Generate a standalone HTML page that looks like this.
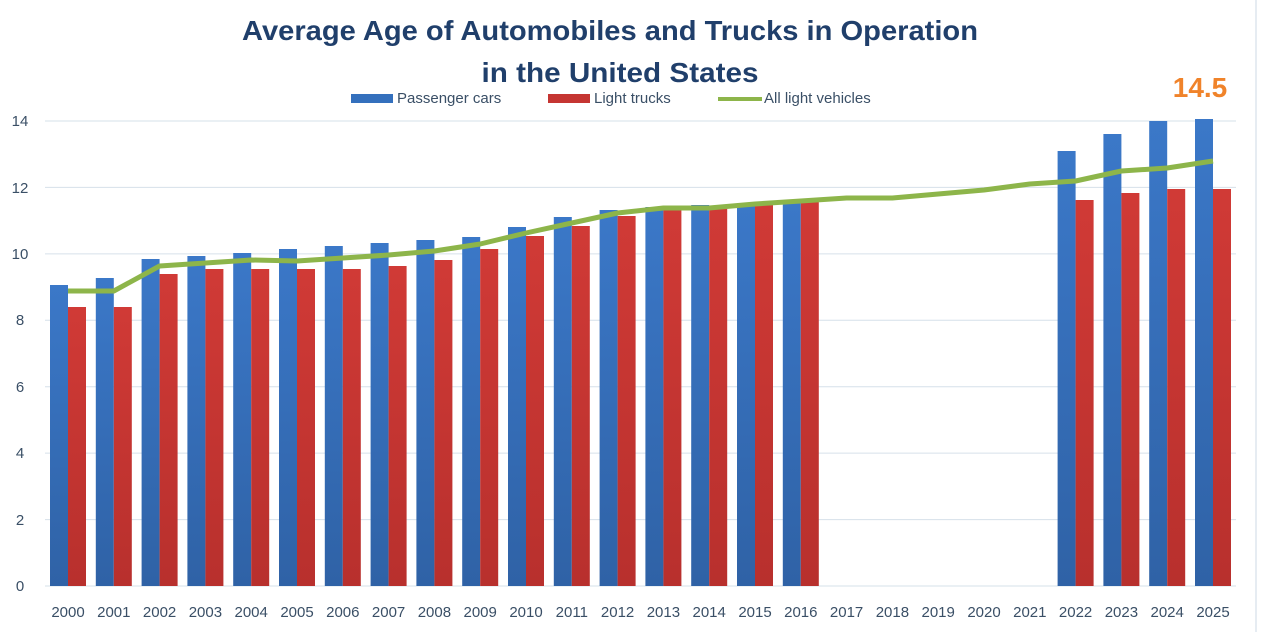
<!DOCTYPE html>
<html><head><meta charset="utf-8"><style>
html,body{margin:0;padding:0;background:#fff;width:1264px;height:632px;overflow:hidden}
text{font-family:"Liberation Sans",sans-serif}
</style></head><body>
<svg width="1264" height="632" viewBox="0 0 1264 632" xmlns="http://www.w3.org/2000/svg">
<defs>
<linearGradient id="gb" x1="0" y1="0" x2="0" y2="1"><stop offset="0" stop-color="#3b78c8"/><stop offset="1" stop-color="#2f62a6"/></linearGradient>
<linearGradient id="gr" x1="0" y1="0" x2="0" y2="1"><stop offset="0" stop-color="#d03a36"/><stop offset="1" stop-color="#b8302d"/></linearGradient>
</defs>
<line x1="1256" y1="0" x2="1256" y2="632" stroke="#dde6ee" stroke-width="1.5"/>
<g stroke="#d6e0ea" stroke-width="1">
<line x1="45" y1="586" x2="1236" y2="586"/>
<line x1="45" y1="519.6" x2="1236" y2="519.6"/>
<line x1="45" y1="453.1" x2="1236" y2="453.1"/>
<line x1="45" y1="386.7" x2="1236" y2="386.7"/>
<line x1="45" y1="320.3" x2="1236" y2="320.3"/>
<line x1="45" y1="253.9" x2="1236" y2="253.9"/>
<line x1="45" y1="187.4" x2="1236" y2="187.4"/>
<line x1="45" y1="121" x2="1236" y2="121"/>
</g>
<g font-size="15" fill="#3a4f66" text-anchor="middle">
<text x="20" y="591">0</text><text x="20" y="525">2</text><text x="20" y="458">4</text><text x="20" y="392">6</text><text x="20" y="325">8</text><text x="20" y="259">10</text><text x="20" y="193">12</text><text x="20" y="126">14</text>
</g>
<g id="bars"></g>
<polyline id="line" fill="none" stroke="#8db54a" stroke-width="5" stroke-linejoin="round"/>
<g id="xl" font-size="15" fill="#3a4f66" text-anchor="middle"></g>
<text x="610" y="40" font-size="28" font-weight="bold" fill="#203f6b" text-anchor="middle" textLength="736" lengthAdjust="spacingAndGlyphs">Average Age of Automobiles and Trucks in Operation</text>
<text x="620" y="82" font-size="28" font-weight="bold" fill="#203f6b" text-anchor="middle" textLength="277" lengthAdjust="spacingAndGlyphs">in the United States</text>
<rect x="351" y="94" width="42" height="9" fill="#3470bd"/>
<text x="397" y="103" font-size="15" fill="#3a4f66">Passenger cars</text>
<rect x="548" y="94" width="42" height="9" fill="#c53532"/>
<text x="594" y="103" font-size="15" fill="#3a4f66">Light trucks</text>
<rect x="718" y="97" width="44" height="4" fill="#8db54a"/>
<text x="764" y="103" font-size="15" fill="#3a4f66">All light vehicles</text>
<text x="1200" y="97" font-size="28" font-weight="bold" fill="#f0832a" text-anchor="middle">14.5</text>
</svg>
<script>
var ns="http://www.w3.org/2000/svg";
var blue={0:285,1:278,2:259,3:256,4:253,5:249,6:246,7:243,8:240,9:237,10:227,11:217,12:210,13:207,14:205,15:203,16:201,22:151,23:134,24:121,25:119};
var red={0:307,1:307,2:274,3:269,4:269,5:269,6:269,7:266,8:260,9:249,10:236,11:226,12:216,13:209,14:207,15:205,16:202,22:200,23:193,24:189,25:189};
var ln=[291,291,266,263,260,261,258,255,251,244,233,223,213,208,208,204,201,198,198,194,190,184,181,171,168,161];
var g=document.getElementById('bars'),xl=document.getElementById('xl'),pts=[];
for(var i=0;i<26;i++){var c=68+45.8*i;
 if(blue[i]!=null){var r=document.createElementNS(ns,'rect');r.setAttribute('x',c-18);r.setAttribute('y',blue[i]);r.setAttribute('width',18);r.setAttribute('height',586-blue[i]);r.setAttribute('fill','url(#gb)');g.appendChild(r);}
 if(red[i]!=null){var r=document.createElementNS(ns,'rect');r.setAttribute('x',c);r.setAttribute('y',red[i]);r.setAttribute('width',18);r.setAttribute('height',586-red[i]);r.setAttribute('fill','url(#gr)');g.appendChild(r);}
 pts.push(c+','+ln[i]);
 var t=document.createElementNS(ns,'text');t.setAttribute('x',c);t.setAttribute('y',617);t.textContent=2000+i;xl.appendChild(t);}
document.getElementById('line').setAttribute('points',pts.join(' '));
</script>
</body></html>
